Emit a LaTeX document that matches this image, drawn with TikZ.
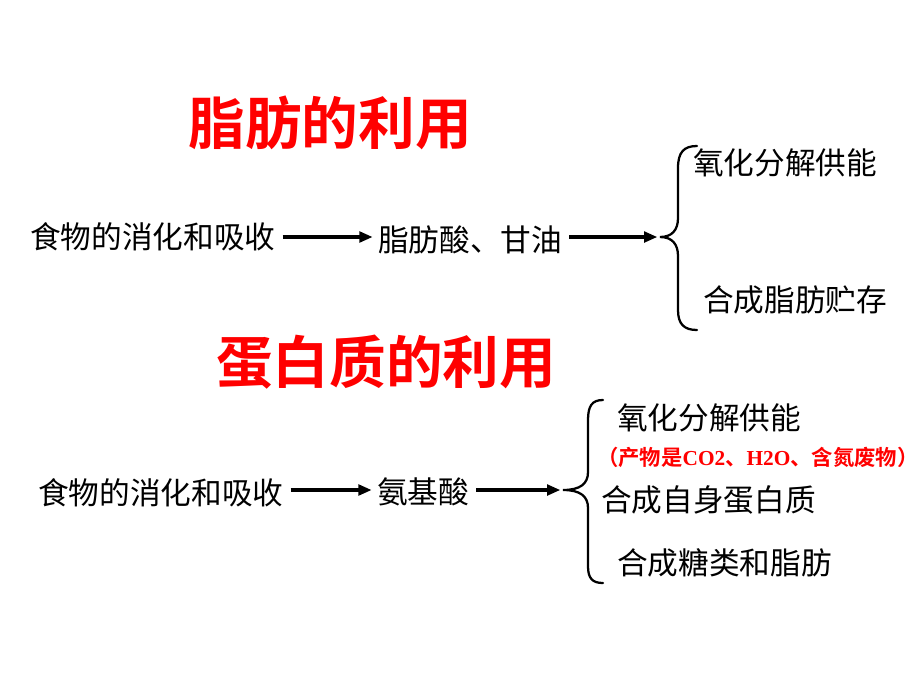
\documentclass[tikz,border=0pt]{standalone}
\usepackage{fontspec}
\setmainfont{Noto Sans CJK SC}
\newfontfamily\cjk{Noto Sans CJK SC}
\newfontfamily\cjkbold{Noto Sans CJK SC Bold}
\newfontfamily\latserif{Liberation Serif}
\usetikzlibrary{arrows.meta}
\begin{document}
\begin{tikzpicture}[x=0.75pt,y=-0.75pt,
  txt/.style={inner sep=0pt,anchor=west,font=\cjk\fontsize{23}{27}\selectfont},
  title/.style={inner sep=0pt,font=\cjkbold\fontsize{42.5}{50}\selectfont,text=red},
  note/.style={inner sep=0pt,anchor=west,font=\cjkbold\fontsize{16}{19}\selectfont,text=red},
  arr/.style={line width=2.4pt,-{Triangle[length=10pt,width=8pt]},shorten <=5pt,shorten >=4pt},
  brace/.style={line width=1.7pt,line cap=round}]
\useasboundingbox (0,0) rectangle (920,690);
% Section 1
\node[title] (t1) at (330,123) {脂肪的利用};
\node[txt] (f1) at (30,237) {食物的消化和吸收};
\node[txt] (fa) at (378,240) {脂肪酸、甘油};
\coordinate (b1) at (660,237);
\node[txt] (o1) at (693,163) {氧化分解供能};
\node[txt] (s1) at (703,300) {合成脂肪贮存};
\draw[arr] (f1.east) -- (fa.west |- f1.east);
\draw[arr,shorten >=2pt] (fa.east |- b1) -- (b1);
\draw[brace] (697,146) .. controls (684,146) and (678,152) .. (678,168)
  -- (678,218) .. controls (678,230) and (672,237) .. (b1)
  .. controls (672,237) and (678,244) .. (678,256)
  -- (678,310) .. controls (678,324) and (684,330) .. (697,330);
% Section 2
\node[title] (t2) at (386,362) {蛋白质的利用};
\node[txt] (f2) at (38,493) {食物的消化和吸收};
\node[txt] (aa) at (377,492) {氨基酸};
\coordinate (b2) at (563,490);
\node[txt] (o2) at (617,418) {氧化分解供能};
\node[note] (n2) at (597,457) {（产物是{\latserif\bfseries CO2}、{\latserif\bfseries H2O}、含氮废物）};
\node[txt] (s2) at (601,500) {合成自身蛋白质};
\node[txt] (c2) at (617,563) {合成糖类和脂肪};
\draw[arr] (f2.east |- b2) -- (aa.west |- b2);
\draw[arr,shorten >=2pt] (aa.east |- b2) -- (b2);
\draw[brace] (603,400) .. controls (592,400) and (588,406) .. (588,420)
  -- (588,472) .. controls (588,484) and (580,490) .. (b2)
  .. controls (580,490) and (588,496) .. (588,508)
  -- (588,566) .. controls (588,578) and (592,583) .. (603,583);
\end{tikzpicture}
\end{document}
